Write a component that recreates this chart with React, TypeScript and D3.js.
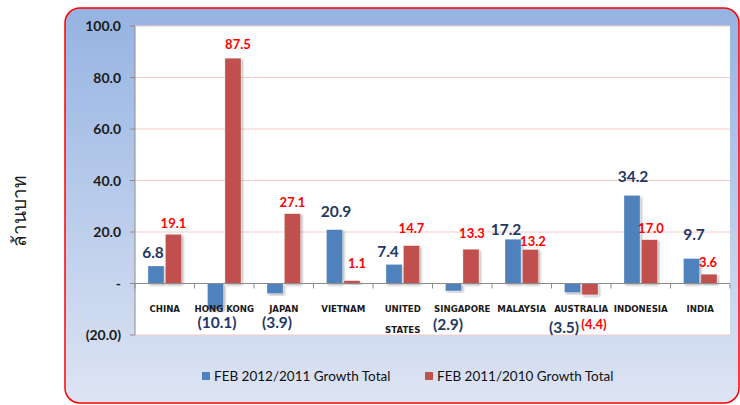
import React from 'react';
import * as d3 from 'd3';

// values (million baht)
const countries = ['CHINA', 'HONG KONG', 'JAPAN', 'VIETNAM', 'UNITED STATES', 'SINGAPORE', 'MALAYSIA', 'AUSTRALIA', 'INDONESIA', 'INDIA'];
const growth2012 = [6.8, -10.1, -3.9, 20.9, 7.4, -2.9, 17.2, -3.5, 34.2, 9.7];
const growth2011 = [19.1, 87.5, 27.1, 1.1, 14.7, 13.3, 13.2, -4.4, 17.0, 3.6];
const seriesNames = ['FEB 2012/2011 Growth Total', 'FEB 2011/2010 Growth Total'];
const yTicks = [-20, 0, 20, 40, 60, 80, 100];

// hand nudges of the value labels, like the ones moved by hand in the original
const blueNudgeX = [-3, 1.5, 2, 1.5, -6, -5.5, -7, -8.5, 1, 2.5];
const blueNudgeY = [0, 0, 0, -5, 1, 2, 4, 5, -5, -11];
const redNudgeX = [0, 5, 0, 5, 0, 1, 2.5, 4, 1.5, -1];
const redNudgeY = [2, -1, 1, -5, -5, -3, 4, 1, 1, 1];

const W = 740;
const H = 405;
const plot = { left: 135, right: 730, top: 26, bottom: 335 };
const colors = ['#4F81BD', '#C0504D'];

const fmtTick = (v: number) => (v === 0 ? '-' : v < 0 ? `(${Math.abs(v).toFixed(1)})` : v.toFixed(1));
const fmtVal = (v: number) => (v < 0 ? `(${Math.abs(v).toFixed(1)})` : v.toFixed(1));

export default function App() {
  const y = d3.scaleLinear().domain([-20, 100]).range([plot.bottom, plot.top]);
  const x0 = d3.scaleBand<string>().domain(countries).range([plot.left, plot.right]).padding(0);
  const x1 = d3.scaleBand<number>().domain([0, 1]).range([13, 46.5]).paddingInner(0.08);
  const series = [growth2012, growth2011];

  const labelPos = (s: number, i: number) => {
    const v = series[s][i];
    const cx = (x0(countries[i]) as number) + (x1(s) as number) + x1.bandwidth() / 2;
    const nx = s === 0 ? blueNudgeX[i] : redNudgeX[i];
    const ny = s === 0 ? blueNudgeY[i] : redNudgeY[i];
    const by = v >= 0 ? y(v) - 8 : 328;
    return { x: cx + nx, y: by + ny };
  };

  return (
    <svg width={W} height={H} style={{ position: 'absolute', left: 0, top: 0 }}>
      <defs>
        <linearGradient id="bg" x1="0" y1="0" x2="0" y2="1">
          <stop offset="0%" stopColor="#95B3E2" />
          <stop offset="100%" stopColor="#DDE4F3" />
        </linearGradient>
        <filter id="shadow" x="-30%" y="-10%" width="160%" height="130%">
          <feDropShadow dx="1.5" dy="1.5" stdDeviation="1.2" floodColor="#000" floodOpacity="0.3" />
        </filter>
      </defs>
      <rect width={W} height={H} fill="#fff" />

      {/* outer panel */}
      <rect x={65} y={8} width={674} height={395} rx={15} fill="url(#bg)" stroke="#FF0000" strokeWidth={1.5} />

      {/* plot area */}
      <rect x={plot.left} y={plot.top} width={plot.right - plot.left} height={plot.bottom - plot.top} fill="#fff" />
      {yTicks.filter((t) => t !== 0).map((t) => (
        <line key={t} x1={plot.left} x2={plot.right} y1={y(t)} y2={y(t)} stroke="#F6CACA" strokeWidth={1} />
      ))}

      {/* y axis */}
      <line x1={plot.left} x2={plot.left} y1={plot.top} y2={plot.bottom} stroke="#8C8C8C" />
      {yTicks.map((t) => (
        <g key={t}>
          <line x1={plot.left - 5} x2={plot.left} y1={y(t)} y2={y(t)} stroke="#8C8C8C" />
          <text x={121} y={y(t)} dy="0.36em" textAnchor="end" fontFamily="Lato, sans-serif" fontWeight="bold" fontSize={14} fill="#1a1a1a">
            {fmtTick(t)}
          </text>
        </g>
      ))}
      <text
        transform={`translate(26,211) rotate(-90)`}
        textAnchor="middle"
        fontFamily="'Noto Sans', 'DejaVu Sans', sans-serif"
        fontSize={19}
        fill="#222"
      >
        ล้านบาท
      </text>

      {/* bars */}
      {series.map((vals, s) =>
        vals.map((v, i) => (
          <rect
            key={`${s}-${i}`}
            x={(x0(countries[i]) as number) + (x1(s) as number)}
            y={y(Math.max(0, v))}
            width={x1.bandwidth()}
            height={Math.abs(y(v) - y(0))}
            fill={colors[s]}
            stroke="rgba(255,255,255,0.5)"
            strokeWidth={0.6}
            filter="url(#shadow)"
          />
        ))
      )}

      {/* zero line with category ticks */}
      <line x1={plot.left} x2={plot.right} y1={y(0)} y2={y(0)} stroke="#8C8C8C" />
      {countries.map((c) => (
        <line key={c} x1={x0(c) as number} x2={x0(c) as number} y1={y(0)} y2={y(0) + 5} stroke="#8C8C8C" />
      ))}
      <line x1={plot.right} x2={plot.right} y1={y(0)} y2={y(0) + 5} stroke="#8C8C8C" />

      {/* category labels */}
      {countries.map((c) => {
        const cx = (x0(c) as number) + x0.bandwidth() / 2;
        const words = c === 'UNITED STATES' ? ['UNITED', 'STATES'] : [c];
        return (
          <text key={c} x={cx} y={312} textAnchor="middle" fontFamily="'DejaVu Sans', sans-serif" fontWeight="bold" fontSize={8.6} fill="#1a1a1a">
            {words.map((w, k) => (
              <tspan key={w} x={cx} dy={k === 0 ? 0 : 21}>
                {w}
              </tspan>
            ))}
          </text>
        );
      })}

      {/* value labels */}
      {series.map((vals, s) =>
        vals.map((v, i) => {
          const p = labelPos(s, i);
          return s === 0 ? (
            <text key={`l${s}-${i}`} x={p.x} y={p.y} textAnchor="middle" fontFamily="Lato, sans-serif" fontWeight="bold" fontSize={15.5} fill="#1F3864">
              {fmtVal(v)}
            </text>
          ) : (
            <text key={`l${s}-${i}`} x={p.x} y={p.y} textAnchor="middle" fontFamily="Lato, sans-serif" fontWeight="bold" fontSize={13} fill="#FF0000">
              {fmtVal(v)}
            </text>
          );
        })
      )}

      {/* legend */}
      {seriesNames.map((n, s) => {
        const lx = s === 0 ? 202 : 425;
        return (
          <g key={n}>
            <rect x={lx} y={372} width={8} height={8} fill={colors[s]} />
            <text x={lx + 12} y={381} fontFamily="Lato, sans-serif" fontSize={13.5} fill="#111">
              {n}
            </text>
          </g>
        );
      })}
    </svg>
  );
}
